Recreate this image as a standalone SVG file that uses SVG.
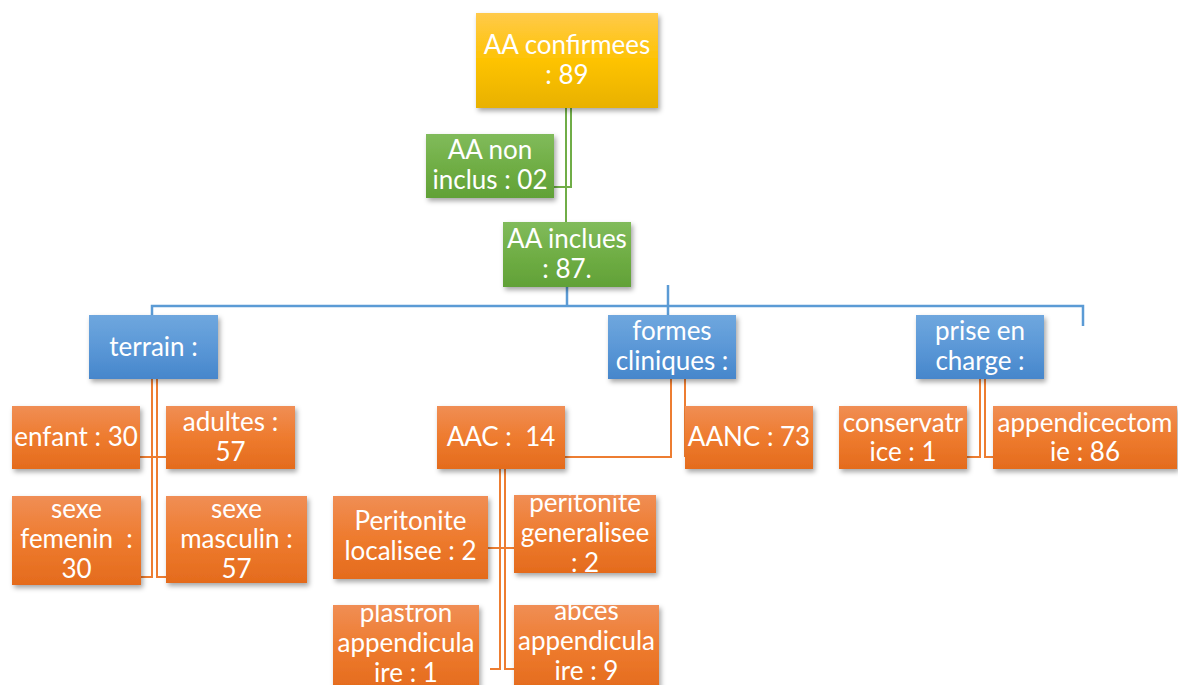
<svg xmlns="http://www.w3.org/2000/svg" width="1178" height="685" viewBox="0 0 1178 685">
<defs>
<linearGradient id="gGold" x1="0" y1="0" x2="0" y2="1"><stop offset="0" stop-color="#FFCA4A"/><stop offset="0.5" stop-color="#FEC303"/><stop offset="1" stop-color="#E8B100"/></linearGradient>
<linearGradient id="gGreen" x1="0" y1="0" x2="0" y2="1"><stop offset="0" stop-color="#81BB5B"/><stop offset="0.5" stop-color="#70AE45"/><stop offset="1" stop-color="#61A137"/></linearGradient>
<linearGradient id="gBlue" x1="0" y1="0" x2="0" y2="1"><stop offset="0" stop-color="#6FA7DE"/><stop offset="0.5" stop-color="#5B98D7"/><stop offset="1" stop-color="#4686CB"/></linearGradient>
<linearGradient id="gOrange" x1="0" y1="0" x2="0" y2="1"><stop offset="0" stop-color="#F08E55"/><stop offset="0.5" stop-color="#EE7B2E"/><stop offset="1" stop-color="#E46B1D"/></linearGradient>
<filter id="sh" x="-10%" y="-10%" width="130%" height="140%"><feDropShadow dx="2" dy="3" stdDeviation="2.5" flood-color="#000" flood-opacity="0.35"/></filter>
</defs>
<style>
text{font-family:Lato,"Liberation Sans",sans-serif;font-size:26px;fill:#fff;text-anchor:middle}
.gold{fill:url(#gGold);filter:url(#sh)}
.green{fill:url(#gGreen);filter:url(#sh)}
.blue{fill:url(#gBlue);filter:url(#sh)}
.orange{fill:url(#gOrange);filter:url(#sh)}
.cg{stroke:#70AD47;stroke-width:2;fill:none}
.cb{stroke:#5B9BD5;stroke-width:2.5;fill:none}
.co{stroke:#ED7D31;stroke-width:2;fill:none}
</style>
<rect width="1178" height="685" fill="#fff"/>
<g id="connectors">
<path class="cg" d="M566 108 V222"/>
<path class="cg" d="M571 108 V187 H554"/>
<path class="cb" d="M567 287 V306"/>
<path class="cb" d="M668 285 V315"/>
<path class="cb" d="M152 316 V306 H1083 V326"/>
<path class="co" d="M152 379 V577 H141"/>
<path class="co" d="M157 379 V577 H166"/>
<path class="co" d="M140 457 H166"/>
<path class="co" d="M671 379 V457 H565"/>
<path class="co" d="M685 379 V457"/>
<path class="co" d="M500 469 V669 H490"/>
<path class="co" d="M505 469 V669 H514"/>
<path class="co" d="M488 548 H514"/>
<path class="co" d="M980 379 V457 H967"/>
<path class="co" d="M985 379 V457 H993"/>
</g>
<g id="n-confirmees"><rect class="gold" x="476" y="13" width="182" height="95"/><text x="567" y="54">AA confirmees</text><text x="567" y="84">: 89</text></g>
<g id="n-noninclus"><rect class="green" x="426" y="134" width="128" height="64"/><text x="490" y="159">AA non</text><text x="490" y="189">inclus : 02</text></g>
<g id="n-inclues"><rect class="green" x="503" y="222" width="128" height="65"/><text x="567" y="248">AA inclues</text><text x="567" y="278">: 87.</text></g>
<g id="n-terrain"><rect class="blue" x="89" y="315" width="129" height="64"/><text x="153.5" y="356">terrain :</text></g>
<g id="n-formes"><rect class="blue" x="608" y="315" width="128" height="64"/><text x="672" y="340">formes</text><text x="672" y="370">cliniques :</text></g>
<g id="n-prise"><rect class="blue" x="916" y="315" width="128" height="64"/><text x="980" y="340">prise en</text><text x="980" y="370">charge :</text></g>
<g id="n-enfant"><rect class="orange" x="12" y="406" width="128" height="63"/><text x="76" y="446">enfant : 30</text></g>
<g id="n-adultes"><rect class="orange" x="166" y="406" width="129" height="63"/><text x="230.5" y="431">adultes :</text><text x="230.5" y="461">57</text></g>
<g id="n-femenin"><rect class="orange" x="12" y="496" width="129" height="89"/><text x="76.5" y="518">sexe</text><text x="76.5" y="548" xml:space="preserve">femenin  :</text><text x="76.5" y="578">30</text></g>
<g id="n-masculin"><rect class="orange" x="166" y="496" width="141" height="87"/><text x="236.5" y="518">sexe</text><text x="236.5" y="548">masculin :</text><text x="236.5" y="578">57</text></g>
<g id="n-aac"><rect class="orange" x="437" y="406" width="128" height="63"/><text x="501" y="446" xml:space="preserve">AAC :  14</text></g>
<g id="n-aanc"><rect class="orange" x="685" y="406" width="128" height="63"/><text x="749" y="446">AANC : 73</text></g>
<g id="n-conservatrice"><rect class="orange" x="839" y="406" width="128" height="63"/><text x="903" y="432">conservatr</text><text x="903" y="461">ice : 1</text></g>
<g id="n-appendicectomie"><rect class="orange" x="993" y="406" width="184" height="63"/><text x="1085" y="432">appendicectom</text><text x="1085" y="461">ie : 86</text></g>
<g id="n-ploc"><rect class="orange" x="333" y="496" width="155" height="83"/><text x="410.5" y="530">Peritonite</text><text x="410.5" y="560">localisee : 2</text></g>
<g id="n-pgen"><rect class="orange" x="514" y="495" width="142" height="78"/><text x="585" y="512">peritonite</text><text x="585" y="542">generalisee</text><text x="585" y="572">: 2</text></g>
<g id="n-plastron"><rect class="orange" x="333" y="605" width="146" height="85"/><text x="406" y="622">plastron</text><text x="406" y="652">appendicula</text><text x="406" y="682">ire : 1</text></g>
<g id="n-abces"><rect class="orange" x="514" y="605" width="145" height="85"/><text x="586.5" y="620">abces</text><text x="586.5" y="650">appendicula</text><text x="586.5" y="680">ire : 9</text></g>
</svg>
